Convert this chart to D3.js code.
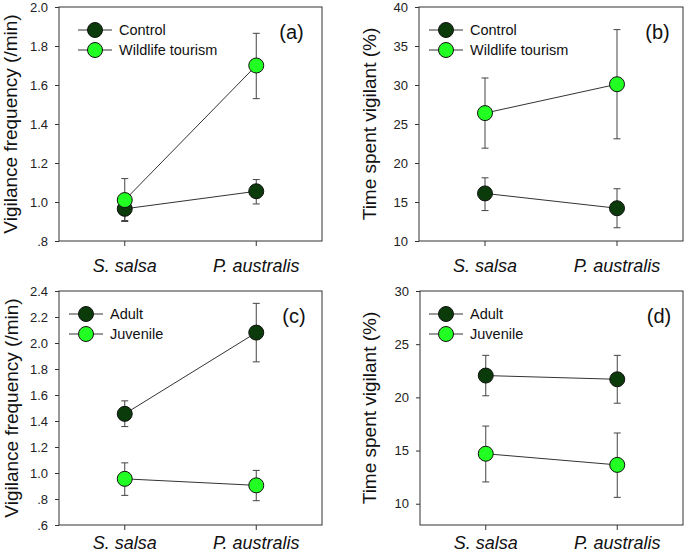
<!DOCTYPE html>
<html><head><meta charset="utf-8">
<script src="https://cdn.jsdelivr.net/npm/d3@7"></script>
<style>body{margin:0;background:#fff}svg{display:block}</style>
</head><body>
<svg id="c" width="685" height="554"></svg>
<script>
const categories = ["S. salsa", "P. australis"];

// Panel (a): vigilance frequency, disturbance
const aSeries = ["Control", "Wildlife tourism"];
const aMean = [[0.965, 1.055], [1.01, 1.70]];
const aLow  = [[0.905, 0.99], [0.90, 1.53]];
const aHigh = [[1.025, 1.115], [1.12, 1.865]];
const aTicks = [0.8, 1.0, 1.2, 1.4, 1.6, 1.8, 2.0];
const aTickLabels = [".8", "1.0", "1.2", "1.4", "1.6", "1.8", "2.0"];

// Panel (b): time spent vigilant, disturbance
const bSeries = ["Control", "Wildlife tourism"];
const bMean = [[16.1, 14.2], [26.4, 30.1]];
const bLow  = [[13.9, 11.7], [21.9, 23.1]];
const bHigh = [[18.1, 16.7], [30.9, 37.1]];
const bTicks = [10, 15, 20, 25, 30, 35, 40];
const bTickLabels = ["10", "15", "20", "25", "30", "35", "40"];

// Panel (c): vigilance frequency, age
const cSeries = ["Adult", "Juvenile"];
const cMean = [[1.455, 2.08], [0.955, 0.905]];
const cLow  = [[1.357, 1.855], [0.828, 0.787]];
const cHigh = [[1.555, 2.305], [1.078, 1.02]];
const cTicks = [0.6, 0.8, 1.0, 1.2, 1.4, 1.6, 1.8, 2.0, 2.2, 2.4];
const cTickLabels = [".6", ".8", "1.0", "1.2", "1.4", "1.6", "1.8", "2.0", "2.2", "2.4"];

// Panel (d): time spent vigilant, age
const dSeries = ["Adult", "Juvenile"];
const dMean = [[22.05, 21.7], [14.7, 13.65]];
const dLow  = [[20.15, 19.45], [12.05, 10.6]];
const dHigh = [[23.95, 23.95], [17.3, 16.65]];
const dTicks = [10, 15, 20, 25, 30];
const dTickLabels = ["10", "15", "20", "25", "30"];

const colors = ["#0b3a0b", "#22ff22"];
const svg = d3.select("#c");
const FONT = "'Liberation Sans', Arial, sans-serif";

function panel(o) {
  const g = svg.append("g");
  const x = d3.scaleBand().domain(categories).range([o.l, o.r]).padding(0);
  const cx = c => x(c) + x.bandwidth() / 2;
  const y = d3.scaleLinear().domain(o.domain).range([o.b, o.t]);

  // Box
  g.append("rect").attr("x", o.l).attr("y", o.t).attr("width", o.r - o.l).attr("height", o.b - o.t)
    .attr("fill", "none").attr("stroke", "#333").attr("stroke-width", 1);

  // Y axis
  const ya = d3.axisLeft(y).tickValues(o.ticks).tickSize(4).tickPadding(7)
    .tickFormat((d, i) => o.tickLabels[i]);
  const yg = g.append("g").attr("transform", `translate(${o.l},0)`).call(ya);
  yg.select(".domain").remove();
  yg.selectAll("line").attr("stroke", "#333");
  yg.selectAll("text").attr("font-family", FONT).attr("font-size", 13).attr("fill", "#222");

  // X axis
  const xa = d3.axisBottom(x).tickSize(5).tickPadding(o.xPad);
  const xg = g.append("g").attr("transform", `translate(0,${o.b})`).call(xa);
  xg.select(".domain").remove();
  xg.selectAll("line").attr("stroke", "#333");
  xg.selectAll("text").attr("font-family", FONT).attr("font-size", 18)
    .attr("font-style", "italic").attr("fill", "#111");

  // Y title
  g.append("text").attr("transform", `translate(${o.l - o.titleOff},${(o.t + o.b) / 2}) rotate(-90)`)
    .attr("text-anchor", "middle").attr("dominant-baseline", "central")
    .attr("font-family", FONT).attr("font-size", 19).attr("fill", "#111").text(o.title);

  // Error bars
  o.mean.forEach((s, si) => {
    categories.forEach((c, ci) => {
      const px = cx(c);
      g.append("line").attr("x1", px).attr("x2", px)
        .attr("y1", y(o.low[si][ci])).attr("y2", y(o.high[si][ci]))
        .attr("stroke", "#444").attr("stroke-width", 1);
      [o.low[si][ci], o.high[si][ci]].forEach(v => {
        g.append("line").attr("x1", px - 3.5).attr("x2", px + 3.5)
          .attr("y1", y(v)).attr("y2", y(v)).attr("stroke", "#444").attr("stroke-width", 1);
      });
    });
  });
  // Lines and points
  const line = d3.line().x((d, i) => cx(categories[i])).y(d => y(d));
  o.mean.forEach((s, si) => {
    g.append("path").attr("d", line(s)).attr("fill", "none").attr("stroke", "#333").attr("stroke-width", 1);
  });
  o.mean.forEach((s, si) => {
    s.forEach((v, ci) => {
      g.append("circle").attr("cx", cx(categories[ci])).attr("cy", y(v)).attr("r", 7.5)
        .attr("fill", colors[si]).attr("stroke", "#111").attr("stroke-width", 1);
    });
  });

  // Legend
  o.series.forEach((name, si) => {
    const ly = o.t + 23 + si * 20;
    g.append("line").attr("x1", o.l + o.legX).attr("x2", o.l + o.legX + 34)
      .attr("y1", ly).attr("y2", ly).attr("stroke", "#333").attr("stroke-width", 1);
    g.append("circle").attr("cx", o.l + o.legX + 17).attr("cy", ly).attr("r", 7.5)
      .attr("fill", colors[si]).attr("stroke", "#111").attr("stroke-width", 1);
    g.append("text").attr("x", o.l + o.legX + 41).attr("y", ly).attr("dominant-baseline", "central")
      .attr("font-family", FONT).attr("font-size", 14.5).attr("fill", "#111").text(name);
  });

  // Panel label
  g.append("text").attr("x", o.labX).attr("y", o.t + 25).attr("dominant-baseline", "central")
    .attr("text-anchor", "middle").attr("font-family", FONT).attr("font-size", 20).attr("fill", "#111")
    .text(o.label);
}

panel({l: 59, r: 322, t: 7, b: 241, domain: [0.8, 2.0], ticks: aTicks, tickLabels: aTickLabels,
  series: aSeries, mean: aMean, low: aLow, high: aHigh, title: "Vigilance frequency (/min)",
  titleOff: 49, legX: 19, label: "(a)", labX: 291.5, xPad: 13});
panel({l: 419, r: 683, t: 7, b: 241, domain: [10, 40], ticks: bTicks, tickLabels: bTickLabels,
  series: bSeries, mean: bMean, low: bLow, high: bHigh, title: "Time spent vigilant (%)",
  titleOff: 50, legX: 10, label: "(b)", labX: 657.5, xPad: 13});
panel({l: 59, r: 322, t: 291, b: 525, domain: [0.6, 2.4], ticks: cTicks, tickLabels: cTickLabels,
  series: cSeries, mean: cMean, low: cLow, high: cHigh, title: "Vigilance frequency (/min)",
  titleOff: 48, legX: 10, label: "(c)", labX: 294, xPad: 6});
panel({l: 420, r: 683, t: 291, b: 525, domain: [8, 30], ticks: dTicks, tickLabels: dTickLabels,
  series: dSeries, mean: dMean, low: dLow, high: dHigh, title: "Time spent vigilant (%)",
  titleOff: 51, legX: 9, label: "(d)", labX: 659, xPad: 6});
</script>
</body></html>
